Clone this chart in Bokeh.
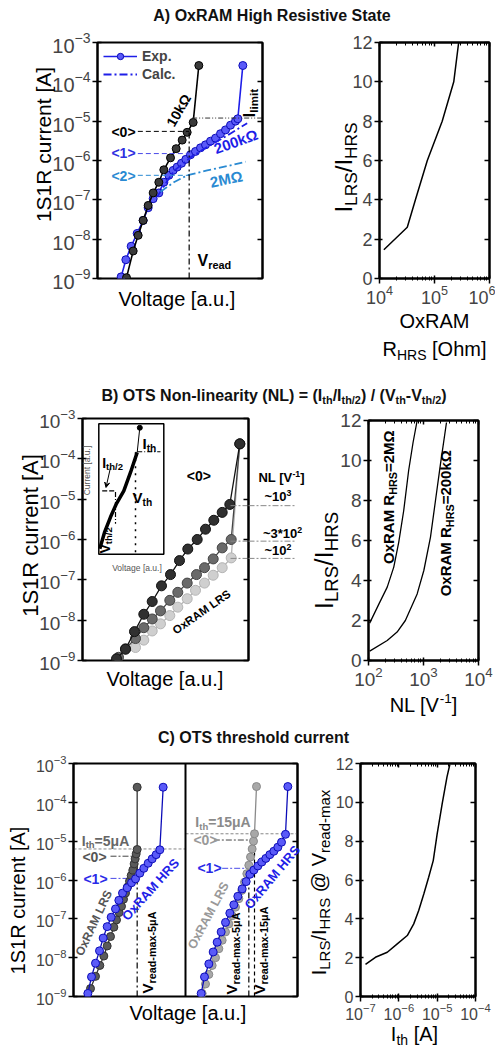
import math
from bokeh.plotting import figure
from bokeh.models import (Label, Span, Arrow, VeeHead, BoxAnnotation, Legend, LegendItem,
                          LinearAxis, FixedTicker, GridBox, Range1d)
from bokeh.embed import file_html
from bokeh.resources import INLINE

FONT = "Liberation Sans"

# ================= DATA =================
# ---- A) left: 1S1R I-V, voltage in a.u. ----
a_v_lrs = [378, 398, 413, 428, 443, 458, 475, 490, 510, 527, 545, 560, 578, 595]
a_i_lrs = [1.05e-9, 5.0e-9, 1.25e-8, 3.0e-8, 7.2e-8, 1.5e-7, 2.8e-7, 5.8e-7, 1.17e-6,
           2.0e-6, 3.3e-6, 5.2e-6, 9.3e-6, 2.6e-4]
a_v_hrs = [362, 376, 392, 410, 428, 443, 458, 475, 490, 505, 518, 530, 543, 556, 570,
           585, 600, 615, 630, 645, 660, 675, 690, 705, 712, 727]
a_i_hrs = [1.1e-9, 3.0e-9, 6.6e-9, 1.4e-8, 3.0e-8, 6.3e-8, 1.07e-7, 1.5e-7, 2.8e-7, 4.2e-7,
           5.6e-7, 6.8e-7, 8.5e-7, 1.07e-6, 1.4e-6, 1.7e-6, 2.1e-6, 2.5e-6, 3.1e-6, 3.7e-6,
           4.8e-6, 6.0e-6, 7.9e-6, 1.0e-5, 1.15e-5, 2.6e-4]
a_v_calc200k = [470, 520, 570, 620, 680, 740]
a_i_calc200k = [1.2e-7, 5.4e-7, 1.2e-6, 2.2e-6, 4.3e-6, 8.9e-6]
a_v_calc2M = [480, 520, 560, 620, 680, 735]
a_i_calc2M = [1.6e-7, 2.8e-7, 4.2e-7, 5.6e-7, 7.2e-7, 9.3e-7]
a_levels = [5.5e-6, 1.5e-6, 4.2e-7]          # <0>, <1>, <2>
a_level_v0 = 412
a_v_read = 566
a_i_limit = 1.2e-5
a_limit_v = [575, 786]
# ---- A) right ----
a_r_hrs = [1.2e4, 3.2e4, 4.5e4, 7.4e4, 1.38e5, 2.24e5, 2.75e5]
a_ratio = [1.46, 2.61, 4.0, 6.0, 8.0, 10.0, 12.0]

# ---- B) left: three OTS non-linearities ----
b_v_nl1000 = [116, 125, 134, 143.3, 151.7, 161, 170, 179, 187.3, 196.7, 205, 213.3, 221.7, 229.3, 239.3]
b_i_nl1000 = [1.1e-9, 1.9e-9, 5.2e-9, 1.4e-8, 2.9e-8, 7.1e-8, 1.35e-7, 3.0e-7, 5.8e-7, 1.0e-6,
              1.8e-6, 3.0e-6, 4.7e-6, 7.4e-6, 2.35e-4]
b_v_nl300 = [118, 125, 135, 143.3, 151.7, 160, 169.3, 177.3, 186.7, 196, 204, 212.7, 221.7, 230.7, 239.3]
b_i_nl300 = [1.2e-9, 1.95e-9, 3.5e-9, 6.5e-9, 1.07e-8, 1.7e-8, 3.1e-8, 4.9e-8, 8.3e-8, 1.35e-7,
             2.0e-7, 3.3e-7, 6.2e-7, 1.0e-6, 2.35e-4]
b_v_nl100 = [135, 143.3, 151.7, 160, 169.3, 177.3, 186.7, 195, 204, 212.7, 221.7, 230.7, 239.3]
b_i_nl100 = [2.1e-9, 3.2e-9, 5.4e-9, 8.1e-9, 1.3e-8, 2.1e-8, 3.4e-8, 5.5e-8, 8.3e-8, 1.3e-7,
             2.0e-7, 3.5e-7, 2.35e-4]
b_nl_levels = [6.9e-6, 9.1e-7, 3.4e-7]
b_nl_level_v = [230, 295]
# inset (schematic I-V)
b_in_v = [99.3, 104, 110, 116, 123.3, 130, 136.7]
b_in_i = [5.9e-7, 1.5e-6, 3.6e-6, 7.8e-6, 1.6e-5, 4.6e-5, 1.45e-4]
b_in_top_v, b_in_top_i = 139.3, 5.9e-4
b_in_box_v = [98.3, 163.3]
b_in_box_i = [4.3e-7, 7.4e-4]
b_in_ith, b_in_ith_v = 1.5e-4, [136.7, 160]
b_in_vth, b_in_vth_i = 135, [1.45e-4, 4.3e-7]
b_in_ith2, b_in_ith2_v = 1.6e-5, [101.7, 115]
b_in_vth2, b_in_vth2_i = 115, [1.5e-5, 2.45e-6]
b_in_arrow_v = [110, 105.5]
b_in_arrow_i = [6.1e-5, 1.95e-5]
# ---- B) right ----
b_nl_2M = [105, 155, 219, 288, 355, 437, 537, 646, 767]
b_ratio_2M = [1.87, 2.83, 3.67, 4.67, 5.92, 7.5, 9.5, 10.9, 12.0]
b_nl_200k = [105, 219, 331, 468, 767, 1014, 1340, 1652, 2037, 2618]
b_ratio_200k = [0.47, 1.0, 1.42, 2.0, 3.33, 4.5, 6.17, 8.0, 9.83, 11.9]

# ---- C) left: two threshold currents (5uA | 15uA) ----
c_v_lrs5 = [270, 285, 298, 310, 320, 330, 340, 348, 356, 363, 369, 375, 381, 387, 392, 397, 401, 404, 407, 410, 410]
c_i_lrs5 = [1.6e-9, 3.3e-9, 6.3e-9, 1.1e-8, 2.0e-8, 3.5e-8, 6.1e-8, 9.4e-8, 1.45e-7, 2.1e-7, 3.2e-7,
            4.6e-7, 6.6e-7, 9.3e-7, 1.3e-6, 1.8e-6, 2.6e-6, 3.5e-6, 4.7e-6, 6.1e-6, 2.45e-4]
c_v_hrs5 = [262, 273, 285, 297, 308, 320, 332, 345, 355, 366, 380, 393, 405, 418, 430, 443, 455, 467, 478, 488]
c_i_hrs5 = [1.2e-9, 3.2e-9, 7.2e-9, 1.5e-8, 3.2e-8, 6.3e-8, 1.1e-7, 1.8e-7, 3.0e-7, 4.6e-7, 6.3e-7,
            8.5e-7, 1.07e-6, 1.5e-6, 2.0e-6, 2.7e-6, 3.5e-6, 4.5e-6, 6.0e-6, 2.45e-4]
c_v_lrs15 = [605, 615, 625, 635, 645, 655, 665, 675, 685, 695, 705, 715, 724, 732, 739, 745, 750, 755, 759, 762, 768]
c_i_lrs15 = [1.2e-9, 2.1e-9, 3.7e-9, 6.3e-9, 1.0e-8, 1.7e-8, 2.8e-8, 4.6e-8, 7.4e-8, 1.2e-7, 2.0e-7,
             3.3e-7, 5.4e-7, 8.8e-7, 1.45e-6, 2.4e-6, 3.9e-6, 6.3e-6, 1.0e-5, 1.55e-5, 2.55e-4]
c_v_hrs15 = [602, 612, 625, 638, 650, 662, 675, 688, 700, 712, 725, 737, 748, 760, 772, 784, 796, 808,
             820, 832, 843, 855, 862]
c_i_hrs15 = [1.2e-9, 3.2e-9, 6.9e-9, 1.4e-8, 2.5e-8, 4.6e-8, 8.1e-8, 1.4e-7, 2.3e-7, 3.8e-7, 5.9e-7,
             9.1e-7, 1.4e-6, 1.8e-6, 2.3e-6, 2.9e-6, 3.6e-6, 4.5e-6, 5.5e-6, 7.0e-6, 9.4e-6, 1.5e-5, 2.55e-4]
c_split_v = 555
c_ith_levels = [6.3e-6, 1.55e-5]
c_ith_v = [[219, 555], [555, 891]]
c_lvl5 = [4.1e-6, 1.1e-6]          # <0>, <1> (Ith = 5 uA)
c_lvl5_v = [330, 410]
c_lvl15 = [1.07e-5, 2.0e-6]        # <0>, <1> (Ith = 15 uA)
c_lvl15_v0 = [640, 665]
c_vread5_1 = 410
c_vread5_2 = 745
c_vread15_2 = 762
# ---- C) right ----
c_ith = [1.35e-7, 2.45e-7, 5.0e-7, 9.1e-7, 1.66e-6, 2.45e-6, 3.3e-6, 4.5e-6, 6.0e-6, 7.9e-6,
         1.0e-5, 1.35e-5, 1.8e-5, 2.14e-5]
c_ratio = [1.65, 2.02, 2.28, 2.71, 3.14, 3.74, 4.43, 5.29, 6.14, 7.0, 8.38, 9.92, 11.3, 11.95]

log_ticks = [1e-9, 1e-8, 1e-7, 1e-6, 1e-5, 1e-4, 1e-3]
ratio_ticks = [0, 2, 4, 6, 8, 10, 12]

# ================= STYLE =================
BLUE = "#1e1ee8"
BLUE_FILL = "#5a5af8"
BLUE_EDGE = "#0c0cb8"
LBLUE = "#2a8ad2"

W_REG = {' ': 278, '!': 278, '(': 333, ')': 333, '*': 389, '+': 584, ',': 278, '-': 333, '.': 278,
         '/': 278, ':': 278, '<': 584, '=': 584, '>': 584, '@': 1015, 'A': 667, 'B': 667, 'C': 722,
         'D': 722, 'E': 667, 'F': 611, 'G': 778, 'H': 722, 'I': 278, 'J': 500, 'K': 667, 'L': 556,
         'M': 833, 'N': 722, 'O': 778, 'P': 667, 'Q': 778, 'R': 722, 'S': 667, 'T': 611, 'U': 722,
         'V': 667, 'W': 944, 'X': 667, 'Y': 667, 'Z': 611, '[': 278, ']': 278, 'a': 556, 'b': 556,
         'c': 500, 'd': 556, 'e': 556, 'f': 278, 'g': 556, 'h': 556, 'i': 222, 'j': 222, 'k': 500,
         'l': 222, 'm': 833, 'n': 556, 'o': 556, 'p': 556, 'q': 556, 'r': 333, 's': 500, 't': 278,
         'u': 556, 'v': 500, 'w': 722, 'x': 500, 'y': 500, 'z': 500, '~': 584, 'Ω': 768, 'μ': 576}
W_BOLD = dict(W_REG)
W_BOLD.update({'[': 333, ']': 333, 'A': 722, 'B': 722, 'L': 611, 'b': 611, 'c': 556, 'd': 611,
               'g': 611, 'h': 611, 'i': 278, 'j': 278, 'k': 556, 'l': 278, 'm': 889, 'n': 611,
               'o': 611, 'p': 611, 'q': 611, 'r': 389, 's': 556, 't': 333, 'u': 611, 'v': 556,
               'x': 556, 'y': 556, 'μ': 611, '!': 333})


def tw(s, size, bold):
    tab = W_BOLD if bold else W_REG
    return sum(tab.get(ch, 556) for ch in s) * size / 1000.0


def make_fig(pl, pt, w, h, fl, ft, fr, fb, x_range, y_range, x_type="linear", y_type="linear"):
    p = figure(width=w, height=h, x_range=x_range, y_range=y_range,
               x_axis_type=x_type, y_axis_type=y_type,
               output_backend="svg", toolbar_location=None,
               min_border_left=fl - pl, min_border_right=pl + w - fr,
               min_border_top=ft - pt, min_border_bottom=pt + h - fb)
    p.frame_align = False
    p.xgrid.visible = False
    p.ygrid.visible = False
    p.outline_line_color = "black"
    p.outline_line_width = 2
    p.outline_line_alpha = 1
    p.background_fill_color = "white"
    p.border_fill_color = "white"
    return p


def mirror_axis(ticks, minor=None, tick_in=5):
    return LinearAxis(ticker=FixedTicker(ticks=ticks, minor_ticks=minor or []),
                      major_label_text_font_size="1px", major_label_text_color=None,
                      major_tick_in=tick_in, major_tick_out=0, major_tick_line_width=1.5,
                      minor_tick_in=3, minor_tick_out=0,
                      minor_tick_line_color=("black" if minor else None),
                      axis_line_width=2, major_label_standoff=0)


def style_iv(p, size):
    p.xaxis.visible = False
    ax = p.yaxis[0]
    ax.ticker = FixedTicker(ticks=log_ticks)
    ax.major_label_text_font = FONT
    ax.major_label_text_font_size = f"{size}px"
    ax.major_tick_in = 4
    ax.major_tick_out = 5
    ax.major_tick_line_width = 1.5
    ax.minor_tick_line_color = None
    ax.axis_line_width = 2
    ax.major_label_standoff = 2
    p.add_layout(mirror_axis(log_ticks), "right")


def style_ratio(p, xdecades, size):
    xt = [10.0 ** d for d in xdecades]
    xm = [k * 10.0 ** d for d in xdecades[:-1] for k in range(2, 10)]
    ay = p.yaxis[0]
    ay.ticker = FixedTicker(ticks=ratio_ticks)
    ay.major_label_text_font = FONT
    ay.major_label_text_font_size = f"{size}px"
    ay.major_tick_in = 3
    ay.major_tick_out = 5
    ay.major_tick_line_width = 1.5
    ay.axis_line_width = 2
    ay.major_label_standoff = 2
    ax = p.xaxis[0]
    ax.ticker = FixedTicker(ticks=xt, minor_ticks=xm)
    ax.major_label_text_font = FONT
    ax.major_label_text_font_size = f"{size}px"
    ax.major_tick_in = 3
    ax.major_tick_out = 5
    ax.minor_tick_in = 2
    ax.minor_tick_out = 2
    ax.major_tick_line_width = 1.5
    ax.axis_line_width = 2
    ax.major_label_standoff = 1
    p.add_layout(mirror_axis(ratio_ticks), "right")
    p.add_layout(mirror_axis(xt, xm, tick_in=4), "above")


# ---- transparent text layer covering the whole page (page pixel coordinates) ----
OV = figure(width=487, height=1038, x_range=Range1d(8, 495), y_range=Range1d(1046, 8),
            output_backend="svg", toolbar_location=None, x_axis_location=None,
            y_axis_location=None, min_border=0, min_border_left=0, min_border_right=0,
            min_border_top=0, min_border_bottom=0)
OV.frame_align = False
OV.outline_line_color = None
OV.background_fill_color = None
OV.border_fill_color = None
OV.grid.visible = False


def rich(px, py, parts, size, color="black", bold=False, angle_deg=0.0, anchor="center",
         sub_ratio=0.68, sub_shift=0.30, font=FONT):
    a = math.radians(angle_deg)
    ca, sa = math.cos(a), math.sin(a)
    segs = []
    for t, mode in parts:
        sz = size if mode == "n" else round(size * sub_ratio, 1)
        lead = len(t) - len(t.lstrip(" "))
        segs.append((t.lstrip(" "), mode, sz, tw(" " * lead, sz, bold), tw(t.lstrip(" "), sz, bold)))
    total = sum(s[3] + s[4] for s in segs)
    off = -total / 2 if anchor == "center" else 0.0
    for t, mode, sz, gap, w in segs:
        off += gap
        v = 0.0
        if mode == "sub":
            v = -sub_shift * size
        elif mode == "sup":
            v = 0.30 * size
        dx = off * ca - v * sa
        dy = off * sa + v * ca          # upward on screen
        OV.add_layout(Label(x=px + dx, y=py - dy, text=t, angle=a,
                            text_font=font, text_font_size=f"{sz}px",
                            text_font_style="bold" if bold else "normal",
                            text_color=color, text_align="left", text_baseline="middle"))
        off += w


def txt(px, py, s, size, **kw):
    rich(px, py, [(s, "n")], size, **kw)


# ================= A =================
A1 = make_fig(8, 28, 292, 334, 97, 42, 262, 278, (291, 786), (1e-9, 1e-3), y_type="log")
style_iv(A1, 20)
p = A1
r_hl = p.line(a_v_hrs, a_i_hrs, line_color=BLUE, line_width=1.6)
r_hs = p.scatter(a_v_hrs, a_i_hrs, size=8, fill_color=BLUE_FILL, line_color=BLUE_EDGE, line_width=1)
p.line(a_v_lrs, a_i_lrs, line_color="black", line_width=1.6)
p.scatter(a_v_lrs, a_i_lrs, size=8, fill_color="#3a3a3a", line_color="black", line_width=1)
r_c200 = p.line(a_v_calc200k, a_i_calc200k, line_color=BLUE, line_width=1.8, line_dash="8 3 2 3")
p.line(a_v_calc2M, a_i_calc2M, line_color=LBLUE, line_width=1.8, line_dash="8 3 2 3")
p.segment(x0=[a_level_v0] * 3, y0=a_levels, x1=[a_v_read] * 3, y1=a_levels,
          line_color=["black", "#4a4ae8", LBLUE], line_width=1, line_dash="5 3")
p.segment(x0=[a_v_read], y0=[1e-9], x1=[a_v_read], y1=[a_levels[0]], line_color="black",
          line_width=1.2, line_dash="6 3 2 3")
p.segment(x0=[a_limit_v[0]], y0=[a_i_limit], x1=[a_limit_v[1]], y1=[a_i_limit], line_color="#333",
          line_width=1, line_dash="5 2 1 2 1 2")
leg = Legend(items=[LegendItem(label="Exp.", renderers=[r_hl, r_hs]),
                    LegendItem(label="Calc.", renderers=[r_c200])],
             location="top_left", margin=6, padding=3, spacing=2, glyph_width=34, glyph_height=16,
             label_height=16, label_standoff=5, label_text_font=FONT, label_text_font_size="14px",
             label_text_font_style="bold", border_line_color=None, background_fill_alpha=0)
p.add_layout(leg)

A2 = make_fig(300, 28, 195, 334, 379, 42, 489, 278, (1e4, 1e6), (0, 12), x_type="log")
style_ratio(A2, [4, 5, 6], 18)
A2.line(a_r_hrs, a_ratio, line_color="black", line_width=1.5)

# ================= B =================
B1 = make_fig(8, 402, 297, 318, 82, 418, 248, 660, (82, 248), (1e-9, 1e-3), y_type="log")
style_iv(B1, 19)
p = B1
p.add_layout(BoxAnnotation(left=b_in_box_v[0], right=b_in_box_v[1], bottom=b_in_box_i[0],
                           top=b_in_box_i[1], fill_color="white", fill_alpha=1, line_color="black",
                           line_alpha=1, line_width=1.5, level="underlay"))
p.line(b_in_v, b_in_i, line_color="black", line_width=3.5)
p.line([b_in_v[-1], b_in_top_v], [b_in_i[-1], b_in_top_i], line_color="black", line_width=1)
p.scatter([b_in_top_v], [b_in_top_i], size=5, fill_color="black", line_color="black")
p.segment(x0=[b_in_ith_v[0]], y0=[b_in_ith], x1=[b_in_ith_v[1]], y1=[b_in_ith], line_color="black",
          line_width=1.2, line_dash="5 2 1 2")
p.segment(x0=[b_in_vth], y0=[b_in_vth_i[0]], x1=[b_in_vth], y1=[b_in_vth_i[1]], line_color="black",
          line_width=1.5, line_dash="2 5")
p.segment(x0=[b_in_ith2_v[0]], y0=[b_in_ith2], x1=[b_in_ith2_v[1]], y1=[b_in_ith2],
          line_color="black", line_width=1.2, line_dash="5 2")
p.segment(x0=[b_in_vth2], y0=[b_in_vth2_i[0]], x1=[b_in_vth2], y1=[b_in_vth2_i[1]],
          line_color="black", line_width=1.2, line_dash="5 2 1 2")
p.add_layout(Arrow(end=VeeHead(size=5, line_color="black", line_width=1), x_start=b_in_arrow_v[0],
                   y_start=b_in_arrow_i[0], x_end=b_in_arrow_v[1], y_end=b_in_arrow_i[1],
                   line_color="black", line_width=1))
for vv, ii, lc, fc in [(b_v_nl100, b_i_nl100, "#b4b4b4", "#cfcfcf"),
                       (b_v_nl300, b_i_nl300, "#444444", "#6a6a6a"),
                       (b_v_nl1000, b_i_nl1000, "#111111", "#303030")]:
    p.line(vv, ii, line_color=lc, line_width=1.3)
    p.scatter(vv, ii, size=10, fill_color=fc, line_color=lc, line_width=1)
p.segment(x0=[b_nl_level_v[0]] * 3, y0=b_nl_levels, x1=[b_nl_level_v[1]] * 3, y1=b_nl_levels,
          line_color="#888888", line_width=1, line_dash="6 2 2 2")

B2 = make_fig(305, 402, 190, 318, 368, 420, 478, 660, (1e2, 1e4), (0, 12), x_type="log")
style_ratio(B2, [2, 3, 4], 19)
B2.line(b_nl_2M, b_ratio_2M, line_color="black", line_width=1.3)
B2.line(b_nl_200k, b_ratio_200k, line_color="black", line_width=1.3)

# ================= C =================
C1 = make_fig(8, 747, 302, 299, 73, 763, 297, 996, (219, 891), (1e-9, 1e-3), y_type="log")
style_iv(C1, 16)
p = C1
p.add_layout(Span(location=c_split_v, dimension="height", line_color="black", line_width=2))
for lvl, vv in zip(c_ith_levels, c_ith_v):
    p.segment(x0=[vv[0]], y0=[lvl], x1=[vv[1]], y1=[lvl], line_color="#888888", line_width=1,
              line_dash="3 2")
p.segment(x0=[c_lvl5_v[0]] * 2, y0=c_lvl5, x1=[c_lvl5_v[1]] * 2, y1=c_lvl5,
          line_color=["#444444", "#4a4ae8"], line_width=1, line_dash="6 2 2 2")
p.segment(x0=c_lvl15_v0, y0=c_lvl15, x1=[c_vread15_2, c_vread5_2], y1=c_lvl15,
          line_color=["#444444", "#4a4ae8"], line_width=1, line_dash="6 2 2 2")
p.segment(x0=[c_vread5_1, c_vread5_2], y0=[1e-9] * 2, x1=[c_vread5_1, c_vread5_2],
          y1=[c_lvl5[0], c_lvl15[1]], line_color="black", line_width=1.2, line_dash="6 3 2 3")
p.segment(x0=[c_vread15_2], y0=[1e-9], x1=[c_vread15_2], y1=[c_lvl15[0]], line_color="black",
          line_width=1.2, line_dash="4 3")
for vv, ii, lc, fc in [(c_v_lrs5, c_i_lrs5, "#333333", "#5a5a5a"),
                       (c_v_hrs5, c_i_hrs5, BLUE_EDGE, BLUE_FILL),
                       (c_v_lrs15, c_i_lrs15, "#8a8a8a", "#a8a8a8"),
                       (c_v_hrs15, c_i_hrs15, BLUE_EDGE, BLUE_FILL)]:
    p.line(vv, ii, line_color=lc, line_width=1.3)
    p.scatter(vv, ii, size=8, fill_color=fc, line_color=lc, line_width=1)

C2 = make_fig(310, 747, 185, 299, 360, 763, 475, 996, (1e-7, 1e-4), (0, 12), x_type="log")
style_ratio(C2, [-7, -6, -5, -4], 16)
C2.line(c_ith, c_ratio, line_color="black", line_width=1.5)

# ================= TEXTS (page pixel positions) =================
# titles
txt(271.5, 15, "A) OxRAM High Resistive State", 16, bold=True, color="#111111")
rich(273.5, 395, [("B) OTS Non-linearity (NL) = (I", "n"), ("th", "sub"), ("/I", "n"),
                  ("th/2", "sub"), (") / (V", "n"), ("th", "sub"), ("-V", "n"), ("th/2", "sub"),
                  (")", "n")], 16, bold=True, color="#111111")
txt(253, 737, "C) OTS threshold current", 16, bold=True, color="#111111")
# A left
txt(123, 131, "<0>", 14, bold=True, color="black")
txt(123, 152.7, "<1>", 14, bold=True, color="#3030e0")
txt(123, 175, "<2>", 14, bold=True, color=LBLUE)
txt(178, 110, "10kΩ", 14, bold=True, angle_deg=60)
txt(235, 141, "200kΩ", 15, bold=True, color=BLUE, angle_deg=20)
txt(225.5, 178.5, "2MΩ", 15, bold=True, color=LBLUE, angle_deg=12)
rich(249, 117, [("I", "n"), ("limit", "sub")], 17, bold=True, angle_deg=90, anchor="start",
     sub_shift=0.22)
rich(197, 260, [("V", "n"), ("read", "sub")], 16, bold=True, anchor="start")
txt(177, 298, "Voltage [a.u.]", 20)
txt(43, 144, "1S1R current [A]", 21, angle_deg=90)
# A right
rich(343, 167, [("I", "n"), ("LRS", "sub"), ("/I", "n"), ("HRS", "sub")], 24, angle_deg=90,
     sub_ratio=0.72)
txt(434, 320, "OxRAM", 20)
rich(434, 348, [("R", "n"), ("HRS", "sub"), (" [Ohm]", "n")], 20, sub_ratio=0.7)
# B left
txt(198.3, 475, "<0>", 14, bold=True)
txt(201, 611.5, "OxRAM LRS", 11.5, bold=True, angle_deg=35)
rich(281, 477, [("NL [V", "n"), ("-1", "sup"), ("]", "n")], 13, bold=True)
rich(277.5, 496, [("~10", "n"), ("3", "sup")], 13, bold=True)
rich(282, 533, [("~3*10", "n"), ("2", "sup")], 13, bold=True)
rich(277.5, 550, [("~10", "n"), ("2", "sup")], 13, bold=True)
rich(142, 443, [("I", "n"), ("th", "sub")], 15, bold=True, anchor="start")
rich(132, 497, [("V", "n"), ("th", "sub")], 15, bold=True, anchor="start")
rich(101.7, 462, [("I", "n"), ("th/2", "sub")], 14, bold=True, anchor="start")
rich(104, 553, [("V", "n"), ("th/2", "sub")], 14, bold=True, anchor="start", angle_deg=90)
txt(86.7, 470, "Current [a.u.]", 8.5, color="#555555", angle_deg=90)
txt(136.7, 567.3, "Voltage [a.u.]", 8.5, color="#555555")
txt(165, 678.3, "Voltage [a.u.]", 20)
txt(30, 535, "1S1R current [A]", 22, angle_deg=90)
# NL guide lines continue past the frame edge under the NL labels
B1_FRAME = (82, 248, 418, 660)


def b1_page_y(i):
    return B1_FRAME[3] - (math.log10(i) + 9) / 6 * (B1_FRAME[3] - B1_FRAME[2])


OV.segment(x0=[B1_FRAME[1]] * 3, y0=[b1_page_y(v) for v in b_nl_levels],
           x1=[b_nl_level_v[1]] * 3, y1=[b1_page_y(v) for v in b_nl_levels],
           line_color="#888888", line_width=1, line_dash="6 2 2 2")
# B right
rich(323, 560, [("I", "n"), ("LRS", "sub"), ("/I", "n"), ("HRS", "sub")], 26, angle_deg=90,
     sub_ratio=0.72)
rich(423, 704, [("NL [V", "n"), ("-1", "sup"), ("]", "n")], 20)
rich(388, 497, [("OxRAM R", "n"), ("HRS", "sub"), ("=2MΩ", "n")], 15, bold=True, angle_deg=90,
     sub_ratio=0.72)
rich(445, 523, [("OxRAM R", "n"), ("HRS", "sub"), ("=200kΩ", "n")], 15, bold=True, angle_deg=90,
     sub_ratio=0.72)
# C left
rich(105, 840, [("I", "n"), ("th", "sub"), ("=5μA", "n")], 14, bold=True, color="#666666")
txt(94, 856, "<0>", 14, bold=True, color="#555555")
txt(95, 878, "<1>", 14, bold=True, color="#2a2ae8")
txt(93.3, 922.5, "OxRAM LRS", 12, bold=True, color="#555555", angle_deg=65)
txt(150, 889, "OxRAM HRS", 13, bold=True, color=BLUE, angle_deg=48)
rich(147, 993, [("V", "n"), ("read-max-5μA", "sub")], 15, bold=True, angle_deg=90,
     anchor="start", sub_ratio=0.72)
rich(222.5, 821.7, [("I", "n"), ("th", "sub"), ("=15μA", "n")], 14, bold=True, color="#8a8a8a")
txt(205, 839, "<0>", 14, bold=True, color="#999999")
txt(209, 867, "<1>", 14, bold=True, color="#2a2ae8")
txt(208, 915, "OxRAM LRS", 12.5, bold=True, color="#999999", angle_deg=62)
txt(271.7, 876.7, "OxRAM HRS", 13, bold=True, color=BLUE, angle_deg=50)
rich(231, 994, [("V", "n"), ("read-max-5μA", "sub")], 15, bold=True, angle_deg=90,
     anchor="start", sub_ratio=0.72)
rich(259, 994, [("V", "n"), ("read-max-15μA", "sub")], 15, bold=True, angle_deg=90,
     anchor="start", sub_ratio=0.72)
txt(188, 1012, "Voltage [a.u.]", 20)
txt(17, 900, "1S1R current [A]", 20, angle_deg=90)
# C right
rich(318, 882, [("I", "n"), ("LRS", "sub"), ("/I", "n"), ("HRS", "sub"), (" @ V", "n"),
                ("read-max", "sub")], 20, angle_deg=90, sub_ratio=0.75)
rich(414, 1033, [("I", "n"), ("th", "sub"), (" [A]", "n")], 20, sub_ratio=0.7)

# ================= LAYOUT =================
row_px = [20, 334, 40, 318, 27, 299]
col_px = [292, 5, 5, 185]
grid = GridBox(children=[(A1, 1, 0, 1, 1), (A2, 1, 1, 1, 3),
                         (B1, 3, 0, 1, 2), (B2, 3, 2, 1, 2),
                         (C1, 5, 0, 1, 3), (C2, 5, 3, 1, 1),
                         (OV, 0, 0, 6, 4)],
               rows=[f"{v}px" for v in row_px], cols=[f"{v}px" for v in col_px], spacing=0,
               margin=(8, 0, 0, 8))

open("out.html", "w", encoding="utf-8").write(file_html(grid, INLINE))
